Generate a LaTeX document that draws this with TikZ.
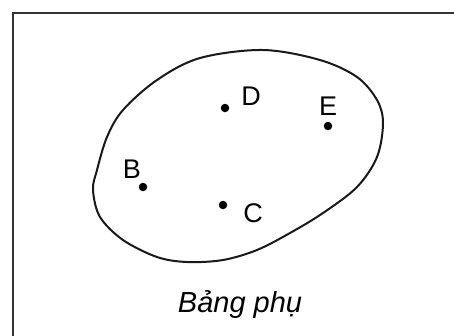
\documentclass[tikz,border=0pt]{standalone}
\usepackage{fontspec}
\setmainfont{Liberation Sans}
\begin{document}
\begin{tikzpicture}[x=1pt,y=-1pt,
  dot/.style={circle,fill=black,inner sep=0pt,minimum size=8.5pt},
  lbl/.style={anchor=base,inner sep=0pt,font=\fontsize{27}{32}\selectfont},
  caption/.style={anchor=base,inner sep=0pt,font=\fontsize{29}{34}\selectfont\itshape},
  frame/.style={draw=black!80,line width=2.2pt},
  blob/.style={draw=black!90,line width=2pt}]
\useasboundingbox (0,0) rectangle (454,335);
\fill[white] (0,0) rectangle (454,335);
% frame (cropped on right and bottom)
\coordinate (fbl) at (13,340);
\coordinate (ftl) at (13,13);
\coordinate (ftr) at (460,13);
\draw[frame] (fbl) -- (ftl) -- (ftr);
% the region
\draw[blob] plot[smooth cycle,tension=0.55] coordinates {
 (263,50) (320,60) (357,77) (377,100) (383,123) (377,157) (357,187)
 (323,213) (290,233) (257,250) (223,260) (187,262) (157,257) (123,240)
 (100,217) (93,190) (97,170) (107,137) (123,110) (157,80) (200,58)};
% points
\node[dot] (pD) at (225,108) {};
\node[dot] (pE) at (328,126) {};
\node[dot] (pB) at (143,187) {};
\node[dot] (pC) at (223,205) {};
% labels
\node[lbl] (lD) at (251,105) {D};
\node[lbl] (lE) at (328,115) {E};
\node[lbl] (lB) at (132,178) {B};
\node[lbl] (lC) at (253,222) {C};
\node[caption] (cap) at (240,312) {Bảng phụ};
\end{tikzpicture}
\end{document}
